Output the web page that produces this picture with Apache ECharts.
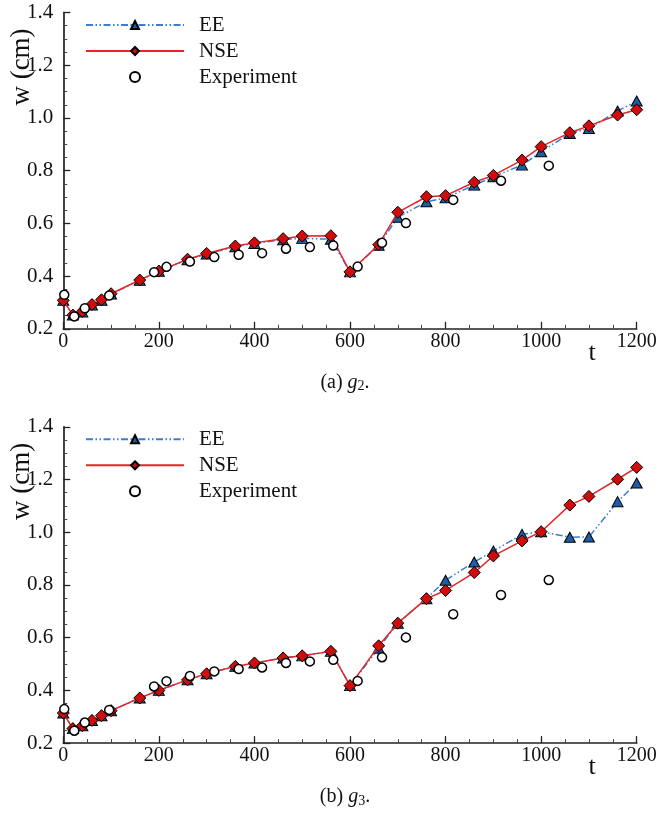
<!DOCTYPE html>
<html>
<head>
<meta charset="utf-8">
<script src="https://cdn.jsdelivr.net/npm/echarts@6/dist/echarts.min.js"></script>
<style>
  html, body { margin: 0; padding: 0; background: #ffffff; }
  #chart { width: 661px; height: 815px; }
</style>
</head>
<body>
<div id="chart"></div>
<script>
// Simulation output times (s) shared by both solvers and both gauges
const simT = [0, 20, 40, 60, 80, 100, 160, 200, 260, 300, 360, 400, 460, 500, 560,
              600, 660, 700, 760, 800, 860, 900, 960, 1000, 1060, 1100, 1160, 1200];

// Gauge g2: water level w (cm)
const eeG2  = [0.308, 0.252, 0.264, 0.290, 0.308, 0.332, 0.384, 0.418, 0.462, 0.484, 0.511, 0.524, 0.538, 0.543, 0.540,
               0.416, 0.517, 0.623, 0.682, 0.697, 0.745, 0.777, 0.821, 0.872, 0.941, 0.960, 1.026, 1.064];
const nseG2 = [0.308, 0.252, 0.266, 0.292, 0.310, 0.333, 0.385, 0.419, 0.464, 0.486, 0.514, 0.526, 0.542, 0.552, 0.553,
               0.416, 0.519, 0.642, 0.701, 0.705, 0.756, 0.782, 0.840, 0.891, 0.944, 0.970, 1.011, 1.031];

// Gauge g3: water level w (cm)
const eeG3  = [0.314, 0.255, 0.266, 0.286, 0.304, 0.323, 0.371, 0.400, 0.440, 0.463, 0.491, 0.504, 0.523, 0.531, 0.548,
               0.418, 0.560, 0.655, 0.748, 0.818, 0.887, 0.929, 0.992, 1.002, 0.981, 0.982, 1.116, 1.187];
const nseG3 = [0.314, 0.255, 0.266, 0.286, 0.304, 0.323, 0.371, 0.400, 0.440, 0.463, 0.491, 0.504, 0.523, 0.531, 0.548,
               0.418, 0.569, 0.655, 0.748, 0.779, 0.847, 0.910, 0.967, 1.002, 1.103, 1.136, 1.201, 1.246];

// Measured water levels
const expT = [2, 23, 45, 96, 190, 216, 265, 316, 367, 416, 466, 516, 565, 616, 667, 717, 816, 916, 1016];
const expW = [0.329, 0.247, 0.278, 0.326, 0.415, 0.435, 0.455, 0.472, 0.481, 0.487, 0.504, 0.510, 0.516,
              0.436, 0.526, 0.601, 0.689, 0.762, 0.819];

// Axis ranges and tick steps
const tRange = [0, 1200], tStep = 200;
const wRange = [0.2, 1.4], wStep = 0.2;

// Panel captions: label, gauge index
const captionLabels = ['(a)', '(b)'];
const gaugeIndex = ['2', '3'];
const legendNames = ['EE', 'NSE', 'Experiment'];

const FONT = '"Liberation Serif", "Times New Roman", serif';
const INK = '#111111';

const pairs = (xs, ys) => xs.map((x, i) => [x, ys[i]]);

const gridLeft = 63.3, gridWidth = 573.4, gridHeight = 316.3;
const panelTops = [12.5, 426.8];
const panelData = [[eeG2, nseG2], [eeG3, nseG3]];

const option = {
  animation: false,
  backgroundColor: '#ffffff',
  grid: [], xAxis: [], yAxis: [], series: [], legend: [], graphic: []
};

panelTops.forEach((top, i) => {
  option.grid.push({ left: gridLeft, top: top, width: gridWidth, height: gridHeight, containLabel: false });

  option.xAxis.push({
    type: 'value', gridIndex: i, min: tRange[0], max: tRange[1], interval: tStep,
    axisLine: { show: true, lineStyle: { color: '#222', width: 1.7 } },
    axisTick: { show: true, inside: true, length: 7, lineStyle: { color: '#222', width: 1.3 } },
    minorTick: { show: true, splitNumber: 4, length: 4, lineStyle: { color: '#444', width: 1 } },
    splitLine: { show: false },
    axisLabel: { color: INK, fontFamily: FONT, fontSize: 20, margin: 3, formatter: v => String(v) }
  });

  option.yAxis.push({
    type: 'value', gridIndex: i, min: wRange[0], max: wRange[1], interval: wStep,
    axisLine: { show: true, lineStyle: { color: '#222', width: 1.7 } },
    axisTick: { show: true, inside: true, length: 7, lineStyle: { color: '#222', width: 1.3 } },
    minorTick: { show: true, splitNumber: 4, length: 4, lineStyle: { color: '#444', width: 1 } },
    splitLine: { show: false },
    axisLabel: { color: INK, fontFamily: FONT, fontSize: 21, margin: 10,
                 formatter: v => v.toFixed(1) }
  });

  const [ee, nse] = panelData[i];

  option.series.push({
    name: 'EE', type: 'line', xAxisIndex: i, yAxisIndex: i, z: 2,
    data: pairs(simT, ee),
    symbol: 'triangle', symbolSize: [11, 10],
    itemStyle: { color: '#1b5ea6', borderColor: '#000', borderWidth: 1 },
    lineStyle: { color: '#3a7dd2', width: 1.5, type: [7, 2.5, 1.5, 2.5, 1.5, 2.5] }
  });
  option.series.push({
    name: 'NSE', type: 'line', xAxisIndex: i, yAxisIndex: i, z: 3,
    data: pairs(simT, nse),
    symbol: 'diamond', symbolSize: 12,
    itemStyle: { color: '#d00c0c', borderColor: '#000', borderWidth: 1 },
    lineStyle: { color: '#e2262a', width: 1.5 }
  });
  option.series.push({
    name: 'Experiment', type: 'scatter', xAxisIndex: i, yAxisIndex: i, z: 4,
    data: pairs(expT, expW),
    symbol: 'circle', symbolSize: 9,
    itemStyle: { color: '#ffffff', borderColor: '#000', borderWidth: 1.5, opacity: 1 }
  });

  option.legend.push({
    data: legendNames, orient: 'vertical', left: 80, top: top - 5.5,
    itemWidth: 98, itemHeight: 10, itemGap: 0, selectedMode: false,
    textStyle: { fontFamily: FONT, fontSize: 21, color: INK, lineHeight: 26, padding: [0, 0, 0, 10] }
  });

  // axis titles
  option.graphic.push({
    type: 'text', x: 22, y: top + 54.5, rotation: Math.PI / 2,
    style: { text: 'w (cm)', font: '27px ' + FONT, fill: INK, align: 'center', verticalAlign: 'middle' }
  });
  option.graphic.push({
    type: 'text', x: 592, y: top + gridHeight + 24,
    style: { text: 't', font: '26px ' + FONT, fill: INK, align: 'center', verticalAlign: 'middle' }
  });

  // panel caption, e.g. "(a) g2." with italic g and subscript index
  option.graphic.push({
    type: 'text', x: 345, y: top + gridHeight + 54,
    style: {
      text: '{n|' + captionLabels[i] + ' }{i|g}{s|' + gaugeIndex[i] + '}{n|.}',
      align: 'center', verticalAlign: 'middle',
      rich: {
        n: { fontFamily: FONT, fontSize: 20, lineHeight: 22, fill: INK, verticalAlign: 'middle' },
        i: { fontFamily: FONT, fontSize: 20, fontStyle: 'italic', lineHeight: 22, fill: INK, verticalAlign: 'middle' },
        s: { fontFamily: FONT, fontSize: 14, lineHeight: 14, fill: INK, verticalAlign: 'bottom' }
      }
    }
  });
});

const chart = echarts.init(document.getElementById('chart'), null, { renderer: 'canvas' });
chart.setOption(option);
</script>
</body>
</html>
